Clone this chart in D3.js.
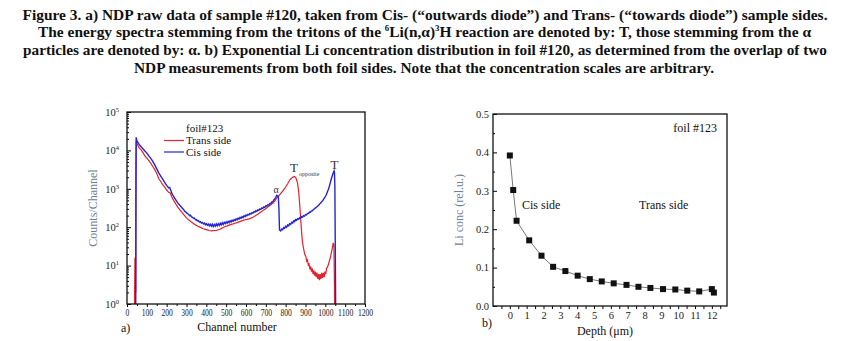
<!DOCTYPE html>
<html><head><meta charset="utf-8">
<script src="https://cdn.jsdelivr.net/npm/d3@7"></script>
<style>
body{margin:0;background:#fff}
text{font-family:"Liberation Serif","DejaVu Serif",serif}
</style>
</head><body>
<svg id="c" width="848" height="341"></svg>
<script>
// ---------- DATA ----------
const titleLine1 = "Figure 3. a) NDP raw data of  sample #120, taken from Cis- (\u201coutwards diode\u201d) and Trans- (\u201ctowards diode\u201d) sample sides.";
const titleLine2 = [["The energy spectra stemming from the tritons of the ",0],["6",1],["Li(n,\u03b1)",0],["3",1],["H reaction are denoted by: T, those stemming from the \u03b1",0]];
const titleLine3 = "particles are denoted by: \u03b1. b) Exponential Li concentration distribution in foil #120, as determined from the overlap of  two";
const titleLine4 = "NDP measurements from both foil sides. Note that the concentration scales are arbitrary.";

// Panel a: [channel, counts]
const transSide = [[38,1],[40,16],[42,6],[44,2],[45,3000],[47,17400],[50,15100],[60,12000],[70,10500],[80,8900],[90,7200],[100,6300],[110,5400],[120,4600],[130,3800],[140,3150],[150,2500],[160,1850],[170,1550],[180,1290],[190,1100],[200,930],[210,810],[218,780],[225,630],[235,500],[245,410],[255,340],[265,290],[275,250],[285,215],[295,185],[305,165],[315,150],[325,136],[335,124],[345,115],[355,108],[365,102],[375,96],[385,91],[395,88],[405,85],[415,82],[425,80],[435,81],[445,82],[455,84],[465,87],[475,92],[485,98],[495,104],[505,108],[515,113],[525,118],[535,122],[545,127],[555,132],[565,138],[575,144],[585,150],[595,156],[605,160],[615,165],[625,172],[635,182],[645,195],[655,210],[665,228],[675,248],[685,270],[695,295],[705,320],[715,350],[725,385],[735,425],[745,480],[755,575],[765,650],[775,760],[785,870],[797,1050],[810,1350],[822,1740],[835,2000],[844,2090],[852,1900],[860,1410],[866,800],[872,316],[878,110],[884,43],[890,28],[897,19],[902,17],[906,13],[910,14],[914,10.5],[918,11],[922,8],[926,9.5],[930,7],[934,8.5],[938,6],[942,7.5],[946,5.5],[950,7],[954,5],[958,6.5],[962,4.5],[966,6],[970,4.2],[974,6],[978,4.5],[982,6.5],[986,4.8],[990,6.5],[994,5],[998,7],[1002,6],[1006,8.5],[1010,9],[1015,10.5],[1020,13],[1025,16],[1030,21],[1035,28],[1040,39],[1043,35],[1045,8],[1047,1]];

const cisSide = [[44,1],[45,200],[46,21900],[50,17800],[60,14500],[70,12600],[80,11000],[90,9600],[100,8500],[110,7200],[120,6200],[130,5200],[140,4200],[150,3300],[160,2600],[170,2150],[180,1780],[190,1480],[200,1230],[210,1050],[215,1080],[220,950],[225,780],[235,630],[245,525],[255,436],[265,380],[275,330],[285,290],[290,265],[300,240],[305,225],[310,218],[315,200],[320,205],[325,185],[330,182],[335,170],[340,172],[345,156],[350,158],[355,145],[360,148],[365,136],[370,140],[375,128],[380,133],[385,121],[390,128],[395,116],[400,124],[405,112],[410,121],[415,108],[420,119],[425,106],[430,120],[435,104],[440,118],[445,106],[450,122],[455,108],[460,123],[465,111],[470,127],[475,114],[480,130],[485,118],[490,134],[495,123],[500,138],[505,127],[510,142],[515,131],[520,147],[525,137],[530,152],[535,142],[540,158],[545,148],[550,165],[555,155],[560,172],[565,162],[570,180],[575,170],[580,188],[585,178],[590,197],[595,188],[600,207],[605,198],[610,218],[615,208],[620,228],[625,220],[630,240],[635,232],[640,254],[645,246],[650,268],[655,260],[660,284],[665,276],[670,300],[675,292],[680,318],[685,310],[690,338],[695,330],[700,360],[705,352],[710,385],[715,378],[720,415],[725,410],[730,455],[735,450],[740,510],[745,540],[750,600],[755,680],[760,650],[763,620],[766,300],[769,85],[772,82],[775,80],[780,90],[785,86],[790,98],[795,94],[800,106],[805,100],[810,114],[815,108],[820,124],[825,118],[830,134],[835,128],[840,146],[845,140],[850,158],[855,152],[860,166],[865,160],[870,176],[875,170],[880,188],[885,182],[890,200],[895,194],[900,214],[905,210],[910,228],[915,226],[920,248],[925,246],[930,266],[935,268],[940,290],[945,298],[950,318],[955,330],[960,350],[965,365],[970,395],[975,420],[980,450],[985,480],[990,525],[995,570],[1000,630],[1005,700],[1010,820],[1015,955],[1020,1150],[1025,1450],[1030,1800],[1035,2200],[1040,2600],[1044,2950],[1046,2700],[1048,1200],[1050,40],[1052,1]];

const channelTicks = [0,100,200,300,400,500,600,700,800,900,1000,1100,1200];
const countDecades = [0,1,2,3,4,5];

// Panel b
const depth  = [0,0.2,0.4,1.15,1.88,2.57,3.3,4.03,4.75,5.46,6.17,6.93,7.64,8.35,9.1,9.83,10.54,11.25,12.0,12.12];
const liConc = [0.392,0.302,0.222,0.171,0.131,0.102,0.091,0.079,0.070,0.064,0.059,0.055,0.050,0.047,0.044,0.043,0.040,0.038,0.044,0.035];
const depthTicks = [0,1,2,3,4,5,6,7,8,9,10,11,12];
const concTicks = [0.0,0.1,0.2,0.3,0.4,0.5];

// ---------- DRAW ----------
const svg = d3.select("#c");

// Title
const title = svg.append("g").attr("font-weight","bold").attr("font-size",14).attr("fill","#111").attr("text-anchor","middle");
title.append("text").attr("x",425).attr("y",19.5).attr("textLength",805).attr("lengthAdjust","spacingAndGlyphs").text(titleLine1);
const t2 = title.append("text").attr("x",424.5).attr("y",37).attr("textLength",773).attr("lengthAdjust","spacingAndGlyphs");
titleLine2.forEach(([s,sup])=>{
  const ts = t2.append("tspan").text(s);
  if(sup) ts.attr("font-size",8).attr("baseline-shift","70%");
});
title.append("text").attr("x",425).attr("y",55).attr("textLength",804).attr("lengthAdjust","spacingAndGlyphs").text(titleLine3);
title.append("text").attr("x",424).attr("y",72.5).attr("textLength",580).attr("lengthAdjust","spacingAndGlyphs").text(titleLine4);

// ---- Panel a ----
const ax = d3.scaleLinear().domain([0,1200]).range([127,365]);
const ay = d3.scaleLog().domain([1,1e5]).range([304,112]);

svg.append("clipPath").attr("id","clipA").append("rect")
  .attr("x",ax(0)).attr("y",ay(1e5)).attr("width",ax(1200)-ax(0)).attr("height",ay(1)-ay(1e5)+1);

const lineA = d3.line().x(d=>ax(d[0])).y(d=>ay(Math.max(d[1],1)));
const plotA = svg.append("g").attr("clip-path","url(#clipA)");
plotA.append("path").datum(transSide).attr("d",lineA).attr("fill","none").attr("stroke","#e5212a").attr("stroke-width",1.2);
plotA.append("path").datum(cisSide).attr("d",lineA).attr("fill","none").attr("stroke","#2424d4").attr("stroke-width",1.4);

// x axis a
const gxa = svg.append("g").attr("transform",`translate(0,${ay(1)})`)
  .call(d3.axisBottom(ax).tickValues(channelTicks).tickSize(3).tickPadding(2).tickFormat(d3.format("d")));
gxa.select(".domain").remove();
gxa.selectAll("text").attr("font-size",10).attr("fill","#222")
  .attr("textLength",d=>String(d).length*3.8).attr("lengthAdjust","spacingAndGlyphs");
const gxam = svg.append("g").attr("transform",`translate(0,${ay(1)})`)
  .call(d3.axisBottom(ax).tickValues(channelTicks.slice(0,-1).map(d=>d+50)).tickSize(2).tickFormat(""));
gxam.select(".domain").remove();

// y axis a (ticks inward)
const decVals = countDecades.map(e=>Math.pow(10,e));
const gya = svg.append("g").attr("transform",`translate(${ax(0)},0)`)
  .call(d3.axisLeft(ay).tickValues(decVals).tickSize(-4).tickPadding(4).tickFormat(()=>"10"));
gya.select(".domain").remove();
gya.selectAll("text").attr("font-size",10.5).attr("fill","#222").attr("dx",-4)
  .each(function(d){
    d3.select(this).append("tspan").attr("font-size",6.5).attr("dy",-4).text(Math.round(Math.log10(d)));
  });
const minorA = [];
countDecades.slice(0,-1).forEach(e=>{for(let k=2;k<10;k++) minorA.push(k*Math.pow(10,e));});
const gyam = svg.append("g").attr("transform",`translate(${ax(0)},0)`)
  .call(d3.axisLeft(ay).tickValues(minorA).tickSize(-2).tickFormat(""));
gyam.select(".domain").remove();

// frame a
svg.append("rect").attr("x",ax(0)).attr("y",ay(1e5)).attr("width",ax(1200)-ax(0)).attr("height",ay(1)-ay(1e5))
  .attr("fill","none").attr("stroke","#111").attr("stroke-width",1.3);

// legend a
const lg = svg.append("g").attr("font-size",11).attr("fill","#111");
lg.append("text").attr("x",186).attr("y",131.5).text("foil#123");
lg.append("line").attr("x1",164).attr("x2",184).attr("y1",140.5).attr("y2",140.5).attr("stroke","#e5212a").attr("stroke-width",1.2);
lg.append("text").attr("x",186).attr("y",143.5).text("Trans side");
lg.append("line").attr("x1",164).attr("x2",184).attr("y1",152).attr("y2",152).attr("stroke","#2424d4").attr("stroke-width",1.2);
lg.append("text").attr("x",186).attr("y",155.5).text("Cis side");

// annotations a
svg.append("text").attr("x",276).attr("y",193).attr("font-size",10).attr("text-anchor","middle").attr("fill","#333").text("\u03b1");
svg.append("text").attr("x",290).attr("y",172).attr("font-size",13).attr("fill","#333").text("T");
svg.append("text").attr("x",299).attr("y",175.5).attr("font-size",6).attr("fill","#333").text("opposite");
svg.append("text").attr("x",334.5).attr("y",169).attr("font-size",13).attr("text-anchor","middle").attr("fill","#333").text("T");

// axis titles a
svg.append("text").attr("transform","translate(97,208) rotate(-90)").attr("text-anchor","middle")
  .attr("font-size",12).attr("fill","#6d8197").text("Counts/Channel");
svg.append("text").attr("x",237).attr("y",331).attr("text-anchor","middle").attr("font-size",12).attr("fill","#111").text("Channel number");
svg.append("text").attr("x",121).attr("y",332).attr("font-size",12).attr("fill","#111").text("a)");

// ---- Panel b ----
const bx = d3.scaleLinear().domain([-1,12.9]).range([493,727]);
const by = d3.scaleLinear().domain([0,0.5]).range([306,114]);

// x axis b
const gxb = svg.append("g").attr("transform",`translate(0,${by(0)})`)
  .call(d3.axisBottom(bx).tickValues(depthTicks).tickSize(3).tickPadding(3).tickFormat(d3.format("d")));
gxb.select(".domain").remove();
gxb.selectAll("text").attr("font-size",10.5).attr("fill","#222");
const gxbm = svg.append("g").attr("transform",`translate(0,${by(0)})`)
  .call(d3.axisBottom(bx).tickValues(d3.range(-0.5,12.9,1)).tickSize(3).tickFormat(""));
gxbm.select(".domain").remove();

// y axis b (inward ticks)
const gyb = svg.append("g").attr("transform",`translate(${bx(-1)},0)`)
  .call(d3.axisLeft(by).tickValues(concTicks).tickSize(-4).tickPadding(4).tickFormat(d3.format(".1f")));
gyb.select(".domain").remove();
gyb.selectAll("text").attr("font-size",10.5).attr("fill","#222");
const gybm = svg.append("g").attr("transform",`translate(${bx(-1)},0)`)
  .call(d3.axisLeft(by).tickValues(concTicks.slice(0,-1).map(d=>d+0.05)).tickSize(-2).tickFormat(""));
gybm.select(".domain").remove();

// frame b
svg.append("rect").attr("x",bx(-1)).attr("y",by(0.5)).attr("width",bx(12.9)-bx(-1)).attr("height",by(0)-by(0.5))
  .attr("fill","none").attr("stroke","#111").attr("stroke-width",1.3);

const ptsB = depth.map((d,i)=>[d,liConc[i]]);
svg.append("path").datum(ptsB).attr("d",d3.line().x(d=>bx(d[0])).y(d=>by(d[1])))
  .attr("fill","none").attr("stroke","#777").attr("stroke-width",1);
svg.append("g").selectAll("rect").data(ptsB).join("rect")
  .attr("x",d=>bx(d[0])-3).attr("y",d=>by(d[1])-3).attr("width",6).attr("height",6).attr("fill","#111");

svg.append("text").attr("x",522).attr("y",209).attr("font-size",12).attr("fill","#111").text("Cis side");
svg.append("text").attr("x",639).attr("y",209).attr("font-size",12).attr("fill","#111").text("Trans side");
svg.append("text").attr("x",717).attr("y",132).attr("font-size",12).attr("text-anchor","end").attr("fill","#111").text("foil #123");

svg.append("text").attr("transform","translate(463,210) rotate(-90)").attr("text-anchor","middle")
  .attr("font-size",12).attr("fill","#6d8197").text("Li conc (rel.u.)");
svg.append("text").attr("x",605).attr("y",335).attr("text-anchor","middle").attr("font-size",12).attr("fill","#111").text("Depth (\u03bcm)");
svg.append("text").attr("x",482).attr("y",327).attr("font-size",12).attr("fill","#111").text("b)");
</script>
</body></html>
